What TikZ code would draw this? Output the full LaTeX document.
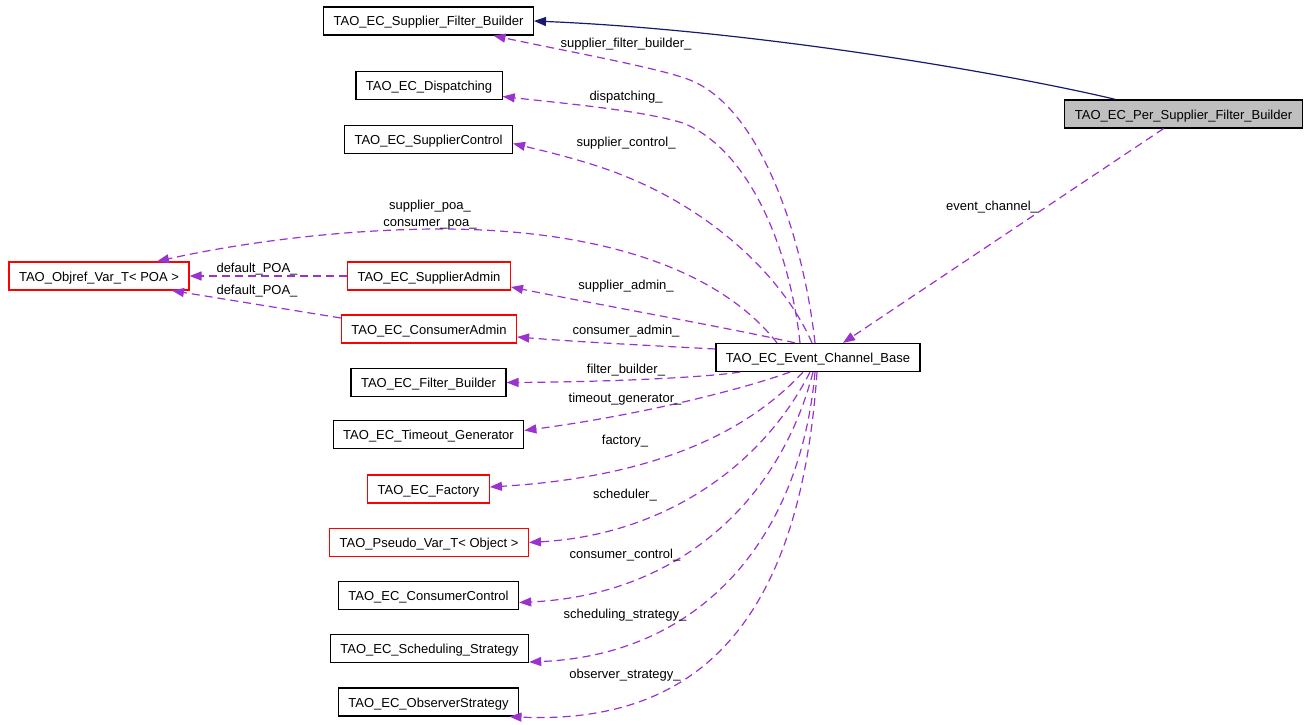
\documentclass[tikz,border=0pt]{standalone}
\usepackage{fontspec}
\setmainfont{Liberation Sans}
\usetikzlibrary{arrows.meta}
\definecolor{edgepurple}{HTML}{9A32CD}
\definecolor{inhnavy}{HTML}{191970}
\definecolor{boxgray}{HTML}{BFBFBF}
\tikzset{
  cls/.style={draw=black, line width=1.2pt, rectangle, minimum height=28pt, inner xsep=10pt, inner ysep=0pt, text height=10pt, text depth=0pt, font=\fontsize{13}{15}\selectfont, anchor=center},
  redcls/.style={cls, draw=red},
  curcls/.style={cls, fill=boxgray},
  uses/.style={draw=edgepurple, line width=1.2pt, dash pattern=on 8pt off 5pt, -{Triangle[length=12pt,width=9pt,fill=edgepurple]}},
  inherit/.style={draw=inhnavy, line width=1.2pt, -{Triangle[length=12pt,width=9pt,fill=inhnavy]}},
  lbl/.style={font=\fontsize{13}{15}\selectfont, inner sep=0pt, text height=10pt, text depth=0pt, anchor=center}
}
\begin{document}
\begin{tikzpicture}[x=1pt,y=-1pt]
\useasboundingbox (0,0) rectangle (1309,725);
% nodes
\node[cls] (sfb) at (428.5,21) {TAO\_EC\_Supplier\_Filter\_Builder};
\node[cls] (disp) at (429,85.5) {TAO\_EC\_Dispatching};
\node[cls] (sc) at (428.5,139.5) {TAO\_EC\_SupplierControl};
\node[redcls] (objref) at (99,276) {TAO\_Objref\_Var\_T< POA >};
\node[redcls] (sa) at (429,276) {TAO\_EC\_SupplierAdmin};
\node[redcls] (ca) at (429,329) {TAO\_EC\_ConsumerAdmin};
\node[cls] (fb) at (428.5,382.5) {TAO\_EC\_Filter\_Builder};
\node[cls] (tg) at (428.5,434.5) {TAO\_EC\_Timeout\_Generator};
\node[redcls] (fac) at (428.5,489) {TAO\_EC\_Factory};
\node[redcls] (pv) at (429,542.5) {TAO\_Pseudo\_Var\_T< Object >};
\node[cls] (cc) at (428.5,595.5) {TAO\_EC\_ConsumerControl};
\node[cls] (ss) at (429.5,648.5) {TAO\_EC\_Scheduling\_Strategy};
\node[cls] (os) at (428.5,702) {TAO\_EC\_ObserverStrategy};
\node[cls] (ecb) at (818,357.5) {TAO\_EC\_Event\_Channel\_Base};
\node[curcls] (psfb) at (1183.5,114) {TAO\_EC\_Per\_Supplier\_Filter\_Builder};
% inheritance
\draw[inherit] ([xshift=-68pt]psfb.north) .. controls (1000,72) and (750,30) .. (sfb.east);
% usage edges
\draw[uses] ([xshift=-3pt]ecb.north) .. controls (805,250) and (765,110) .. (690,80) .. controls (660,68) and (560,50) .. ([xshift=65pt]sfb.south);
\draw[uses] ([xshift=-18pt]ecb.north) .. controls (790,250) and (750,150) .. (683,123) .. controls (640,110) and (560,103) .. ([yshift=-11pt]disp.east);
\draw[uses] ([xshift=-6pt]ecb.north) .. controls (780,270) and (700,200) .. (600,167) .. controls (570,157) and (540,150) .. ([yshift=-4pt]sc.east);
\draw[uses] ([xshift=-41pt]ecb.north) .. controls (720,270) and (600,228) .. (433,229) .. controls (330,230) and (230,245) .. ([xshift=58pt]objref.north);
\draw[uses] (sa.west) -- (objref.east);
\draw[uses] ([yshift=11pt]ca.west) -- ([xshift=73pt]objref.south);
\draw[uses] ([xshift=-23pt]ecb.north) .. controls (740,330) and (600,305) .. ([yshift=-11pt]sa.east);
\draw[uses] ([yshift=8.5pt]ecb.west) .. controls (640,345) and (580,342) .. ([yshift=-8pt]ca.east);
\draw[uses] ([xshift=-78pt]ecb.south) .. controls (700,378) and (600,382) .. (fb.east);
\draw[uses] ([xshift=-28pt]ecb.south) .. controls (740,390) and (640,415) .. ([yshift=4pt]tg.east);
\draw[uses] ([xshift=-15pt]ecb.south) .. controls (740,440) and (640,478) .. ([yshift=2pt]fac.east);
\draw[uses] ([xshift=-8pt]ecb.south) .. controls (760,470) and (660,535) .. (pv.east);
\draw[uses] ([xshift=-5pt]ecb.south) .. controls (780,500) and (680,595) .. ([yshift=-7pt]cc.east);
\draw[uses] ([xshift=-3pt]ecb.south) .. controls (800,540) and (700,655) .. ([yshift=-13.5pt]ss.east);
\draw[uses] ([xshift=-1pt]ecb.south) .. controls (800,620) and (700,725) .. ([xshift=81pt]os.south);
\draw[uses] ([xshift=-20pt]psfb.south) -- ([xshift=25pt]ecb.north);
% labels
\node[lbl] (l1) at (626,43) {supplier\_filter\_builder\_};
\node[lbl] (l2) at (626,95) {dispatching\_};
\node[lbl] (l3) at (626,141) {supplier\_control\_};
\node[lbl] (l4) at (430,204) {supplier\_poa\_};
\node[lbl] (l5) at (430,221) {consumer\_poa\_};
\node[lbl] (l6) at (257,267) {default\_POA\_};
\node[lbl] (l7) at (257,289) {default\_POA\_};
\node[lbl] (l8) at (626,284) {supplier\_admin\_};
\node[lbl] (l9) at (626,329) {consumer\_admin\_};
\node[lbl] (l10) at (626,368) {filter\_builder\_};
\node[lbl] (l11) at (625,397) {timeout\_generator\_};
\node[lbl] (l12) at (625,439) {factory\_};
\node[lbl] (l13) at (625,493) {scheduler\_};
\node[lbl] (l14) at (625,553) {consumer\_control\_};
\node[lbl] (l15) at (625,613) {scheduling\_strategy\_};
\node[lbl] (l16) at (625,673) {observer\_strategy\_};
\node[lbl] (l17) at (992,205) {event\_channel\_};
\end{tikzpicture}
\end{document}
